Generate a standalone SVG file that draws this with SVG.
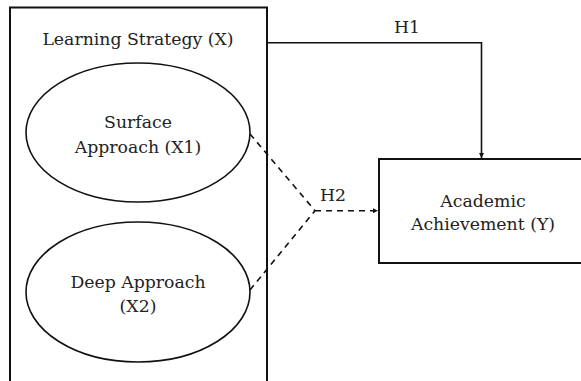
<svg xmlns="http://www.w3.org/2000/svg" width="581" height="381" viewBox="0 0 581 381">
<style>
text{font-family:"DejaVu Serif","Liberation Serif",serif;font-size:17.3px;fill:#222;text-anchor:middle}
.shape{fill:none;stroke:#111;stroke-width:1.6}
.box{fill:#fff;stroke:#111;stroke-width:2}
.line{fill:none;stroke:#111;stroke-width:1.6}
.dash{fill:none;stroke:#111;stroke-width:1.6;stroke-dasharray:6,5}
</style>
<defs>
<marker id="arr" viewBox="0 0 8 8" refX="8" refY="4" markerWidth="5" markerHeight="5" orient="auto" markerUnits="userSpaceOnUse">
<path d="M0,0 L8,4 L0,8 Z" fill="#111"/>
</marker>
</defs>
<rect width="581" height="381" fill="#fff"/>
<g id="strategy">
<rect class="box" x="10" y="7.5" width="257" height="380"/>
<text x="138" y="45">Learning Strategy (X)</text>
</g>
<g id="surface">
<ellipse class="shape" cx="138" cy="132.5" rx="112" ry="69.5"/>
<text x="138" y="128">Surface</text>
<text x="138" y="153">Approach (X1)</text>
</g>
<g id="deep">
<ellipse class="shape" cx="138" cy="292" rx="112" ry="70"/>
<text x="138" y="288">Deep Approach</text>
<text x="138" y="312">(X2)</text>
</g>
<g id="achievement">
<rect class="box" x="379" y="159" width="210" height="104"/>
<text x="483" y="207">Academic</text>
<text x="483" y="230">Achievement (Y)</text>
</g>
<g id="connectors">
<polyline class="line" points="267,42.7 481.5,42.7 481.5,158" marker-end="url(#arr)"/>
<text x="407" y="33">H1</text>
<line class="dash" x1="250" y1="134" x2="315" y2="210.7"/>
<line class="dash" x1="250" y1="290" x2="315" y2="210.7"/>
<line class="dash" x1="315" y1="210.7" x2="378" y2="210.7" marker-end="url(#arr)"/>
<text x="333" y="200.5">H2</text>
</g>
</svg>
